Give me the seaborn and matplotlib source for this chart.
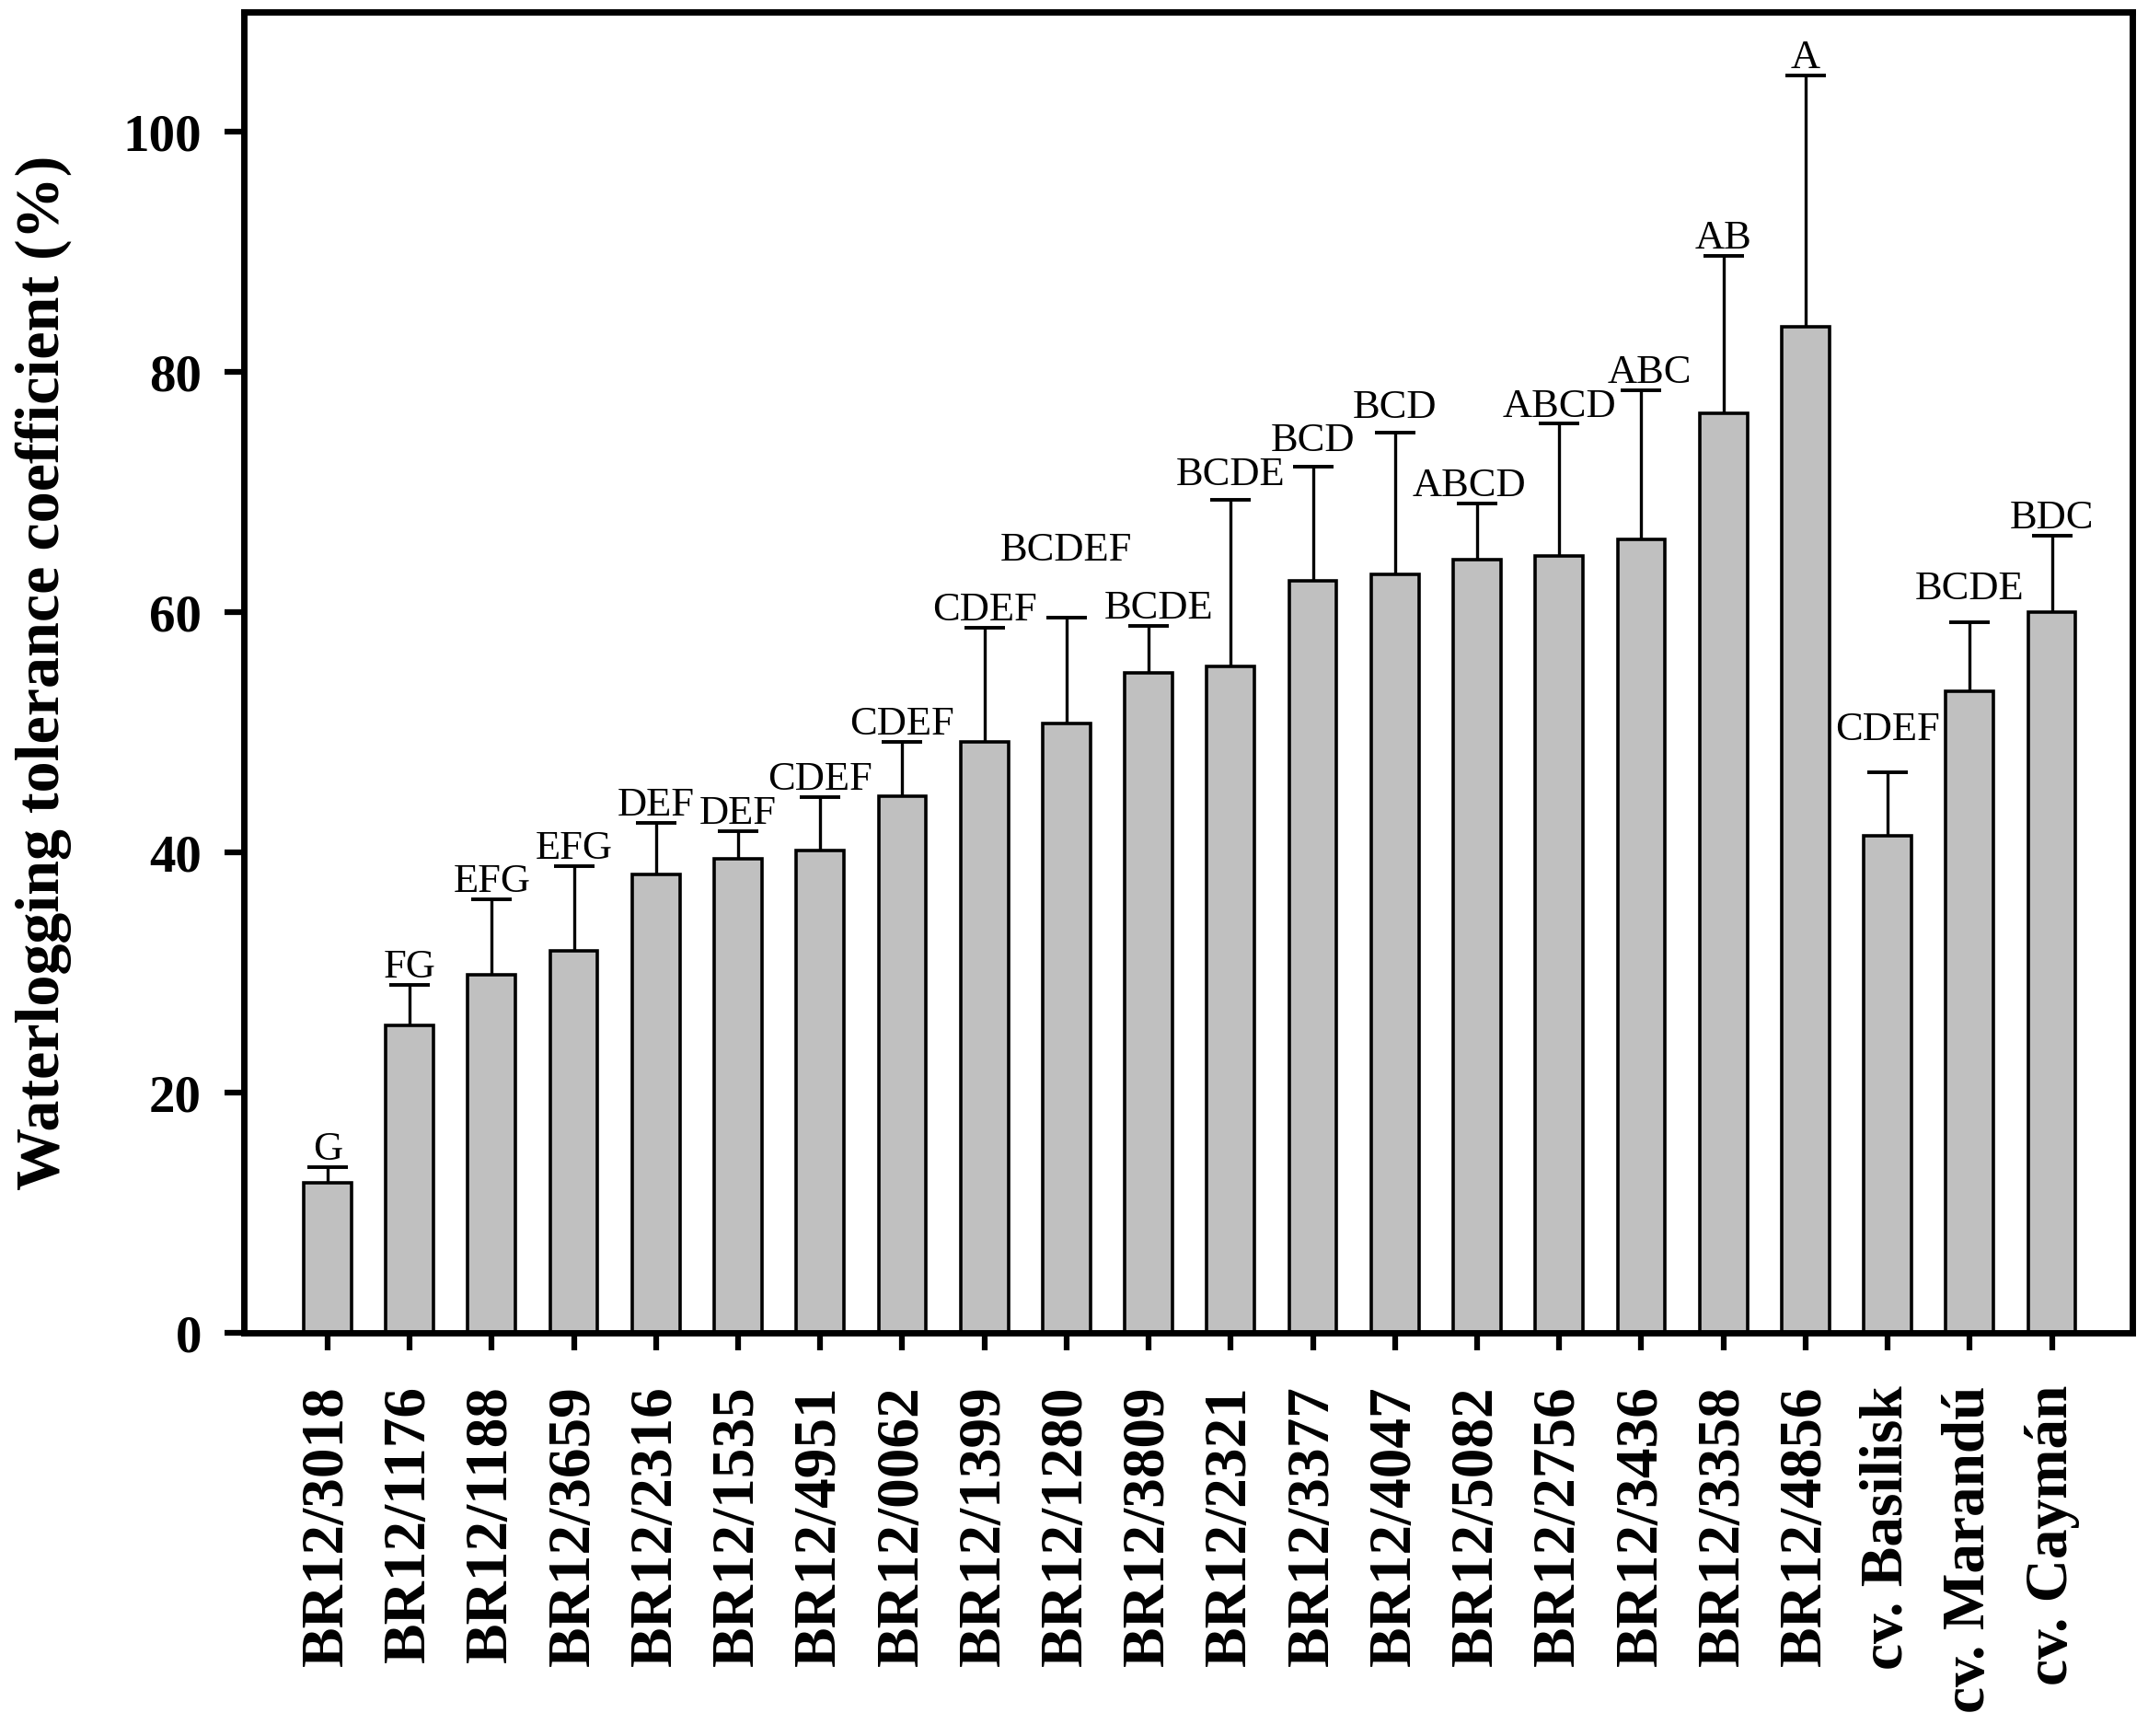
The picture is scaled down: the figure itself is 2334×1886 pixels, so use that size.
"""
Waterlogging tolerance coefficient of BR12 genotypes and commercial cultivars
bar chart with one-sided error bars and letter groups
"""

import numpy as np
import matplotlib
matplotlib.use("Agg")
import matplotlib.pyplot as plt
import seaborn as sns

# data
genotypes = ["BR12/3018", "BR12/1176", "BR12/1188", "BR12/3659", "BR12/2316",
             "BR12/1535", "BR12/4951", "BR12/0062", "BR12/1399", "BR12/1280",
             "BR12/3809", "BR12/2321", "BR12/3377", "BR12/4047", "BR12/5082",
             "BR12/2756", "BR12/3436", "BR12/3358", "BR12/4856",
             "cv. Basilisk", "cv. Marandú", "cv. Caymán"]
means = [12.5, 25.6, 29.8, 31.8, 38.2, 39.5, 40.2, 44.7, 49.2, 50.75,
         55.0, 55.5, 62.6, 63.2, 64.4, 64.7, 66.1, 76.6, 83.8,
         41.4, 53.4, 60.0]
errors = [1.3, 3.4, 6.3, 7.1, 4.3, 2.3, 4.4, 4.5, 9.5, 8.85,
          3.9, 13.9, 9.5, 11.8, 4.7, 11.0, 12.4, 13.1, 20.9,
          5.3, 5.8, 6.4]
groups = ["G", "FG", "EFG", "EFG", "DEF", "DEF", "CDEF", "CDEF", "CDEF", "BCDEF",
          "BCDE", "BCDE", "BCD", "BCD", "ABCD", "ABCD", "ABC", "AB", "A",
          "CDEF", "BCDE", "BDC"]

# a few letters sit higher / off-centre in the original
label_lift = {9: 4.1, 19: 2.1, 11: 0.6, 12: 0.7, 13: 0.6, 20: 1.3}
label_shift = {10: 0.12, 16: 0.1, 14: -0.1}

sns.set_style("ticks")
plt.rcParams['font.family'] = ['Liberation Serif', 'DejaVu Serif']
plt.rcParams['text.color'] = 'black'
plt.rcParams['axes.labelcolor'] = 'black'
plt.rcParams['xtick.color'] = 'black'
plt.rcParams['ytick.color'] = 'black'

fig, ax = plt.subplots(figsize=(23.34, 18.86), dpi=100)
fig.subplots_adjust(left=0.1135, right=0.9927, bottom=0.2322, top=0.9931)

sns.barplot(x=genotypes, y=means, color="#c0c0c0", saturation=1,
            edgecolor="black", linewidth=2.6, width=0.58,
            errorbar=None, ax=ax)

pos = np.arange(len(genotypes))
eb = ax.errorbar(pos, means, yerr=[np.zeros(len(means)), errors], fmt="none",
                 ecolor="black", elinewidth=2.4, capsize=16, capthick=2.8,
                 zorder=3)
# only the upper cap is wanted
for cl in eb[1]:
    if np.allclose(cl.get_ydata(), means):
        cl.remove()

for i, g in enumerate(groups):
    ax.text(i + label_shift.get(i, 0), means[i] + errors[i] + 0.6 + label_lift.get(i, 0),
            g, ha="center", va="baseline", fontsize=32, color="black")

ax.set_xlim(-1.02, 21.98)
ax.set_ylim(0, 110)
ax.set_yticks([0, 20, 40, 60, 80, 100])

for side in ["left", "right", "top", "bottom"]:
    ax.spines[side].set_visible(True)
    ax.spines[side].set_linewidth(5)
    ax.spines[side].set_color("black")

ax.tick_params(axis="y", direction="out", length=15, width=4.5, pad=18,
               labelsize=41, colors="black")
ax.tick_params(axis="x", direction="out", length=14, width=4.5, pad=27,
               labelsize=47, labelrotation=90, colors="black")
for lab in ax.get_xticklabels() + ax.get_yticklabels():
    lab.set_fontweight("bold")

ax.set_xlabel("")
ax.set_ylabel("Waterlogging tolerance coefficient (%)", fontsize=49,
              fontweight="bold", color="black")
ax.yaxis.set_label_coords(-0.091, 0.5)

plt.savefig("out.png", dpi=100)
